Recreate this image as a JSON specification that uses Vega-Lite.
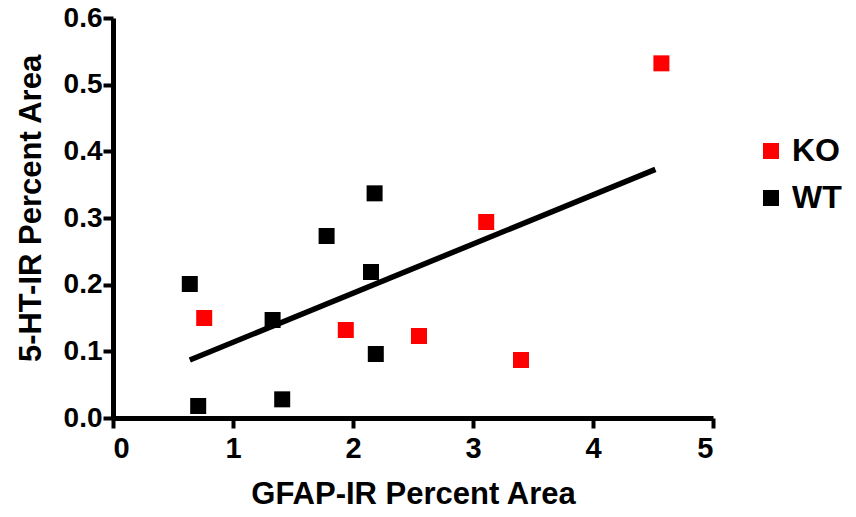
{
  "$schema": "https://vega.github.io/schema/vega-lite/v6.json",
  "autosize": "none",
  "width": 600,
  "height": 400,
  "padding": {"left": 113, "top": 18, "right": 143, "bottom": 99},
  "background": "white",
  "config": {
    "view": {"stroke": null},
    "font": "Liberation Sans",
    "axis": {
      "grid": false,
      "domainColor": "black",
      "domainWidth": 5,
      "tickColor": "black",
      "tickWidth": 4,
      "tickSize": 10,
      "labelColor": "black",
      "labelFont": "Liberation Sans",
      "labelFontWeight": "bold",
      "labelFontSize": 28,
      "titleColor": "black",
      "titleFont": "Liberation Sans",
      "titleFontWeight": "bold",
      "titleFontSize": 31
    }
  },
  "datasets": {
    "pts": [
      {"x": 4.57, "y": 0.532, "g": "KO"},
      {"x": 3.11, "y": 0.294, "g": "KO"},
      {"x": 0.76, "y": 0.150, "g": "KO"},
      {"x": 1.94, "y": 0.132, "g": "KO"},
      {"x": 2.55, "y": 0.123, "g": "KO"},
      {"x": 3.40, "y": 0.087, "g": "KO"},
      {"x": 0.64, "y": 0.201, "g": "WT"},
      {"x": 0.71, "y": 0.018, "g": "WT"},
      {"x": 1.33, "y": 0.147, "g": "WT"},
      {"x": 1.41, "y": 0.028, "g": "WT"},
      {"x": 1.78, "y": 0.273, "g": "WT"},
      {"x": 2.15, "y": 0.219, "g": "WT"},
      {"x": 2.18, "y": 0.337, "g": "WT"},
      {"x": 2.19, "y": 0.096, "g": "WT"}
    ],
    "fit": [
      {"x": 0.64, "y": 0.087},
      {"x": 4.52, "y": 0.373}
    ]
  },
  "layer": [
    {
      "data": {"name": "fit"},
      "mark": {"type": "line", "color": "black", "strokeWidth": 5.5, "strokeCap": "butt"},
      "encoding": {
        "x": {"field": "x", "type": "quantitative", "scale": {"domain": [0, 5], "nice": false}},
        "y": {"field": "y", "type": "quantitative", "scale": {"domain": [0, 0.6], "nice": false}}
      }
    },
    {
      "data": {"name": "pts"},
      "mark": {"type": "point", "shape": "square", "filled": true, "size": 256, "opacity": 1},
      "encoding": {
        "x": {
          "field": "x", "type": "quantitative",
          "scale": {"domain": [0, 5], "nice": false},
          "axis": {"title": "GFAP-IR Percent Area", "values": [0, 1, 2, 3, 4, 5], "format": "d", "labelPadding": 6, "labelFontSize": 29, "titlePadding": 16}
        },
        "y": {
          "field": "y", "type": "quantitative",
          "scale": {"domain": [0, 0.6], "nice": false},
          "axis": {"title": "5-HT-IR Percent Area", "values": [0, 0.1, 0.2, 0.3, 0.4, 0.5, 0.6], "format": ".1f", "labelPadding": 1, "titlePadding": 16, "titleY": 190}
        },
        "color": {
          "field": "g", "type": "nominal",
          "scale": {"domain": ["KO", "WT"], "range": ["#ff0000", "#000000"]},
          "legend": {
            "title": null,
            "orient": "none",
            "legendX": 642,
            "legendY": 117,
            "symbolType": "square",
            "symbolSize": 256,
            "symbolStrokeWidth": 0,
            "labelFontSize": 32,
            "labelFontWeight": "bold",
            "labelFont": "Liberation Sans",
            "labelColor": "black",
            "labelOffset": 5,
            "rowPadding": 15,
            "padding": 0
          }
        }
      }
    }
  ]
}
